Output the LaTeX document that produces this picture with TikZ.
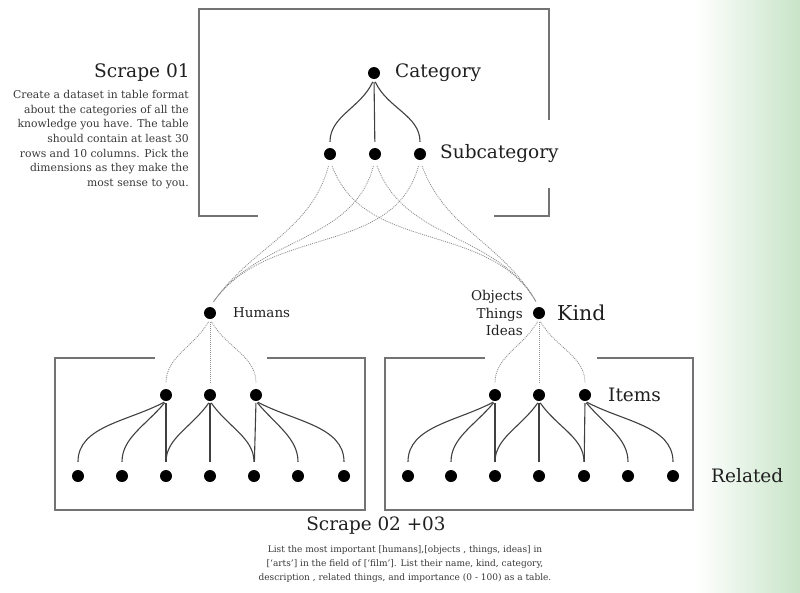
\documentclass[tikz,border=0pt]{standalone}
\usepackage{fontspec}
\setmainfont{DejaVu Serif}
\begin{document}
\begin{tikzpicture}[x=1pt,y=-1pt,
  dot/.style={circle,fill=black,inner sep=0pt,minimum size=12pt},
  boxline/.style={draw=black!55,line width=1.6pt},
  solidedge/.style={draw=black!75,line width=1.1pt},
  dotedge/.style={draw=black!45,line width=0.8pt,dash pattern=on 1pt off 1pt},
  lbl/.style={inner sep=0pt,text=black!88},
  body/.style={inner sep=0pt,text=black!78}]
\useasboundingbox (0,0) rectangle (800,592);
\shade[left color=white,right color={rgb,255:red,200;green,228;blue,200}] (695,0) rectangle (800,592);
% boxes
\draw[boxline] (258,216) -- (199,216) -- (199,9) -- (549,9) -- (549,120);
\draw[boxline] (549,188) -- (549,216) -- (494,216);
\draw[boxline] (155,358) -- (55,358) -- (55,510) -- (365,510) -- (365,358) -- (267,358);
\draw[boxline] (485,358) -- (385,358) -- (385,510) -- (693,510) -- (693,358) -- (597,358);
% dots
\node[dot] (cat) at (374,73) {};
\node[dot] (s1) at (330,154) {};
\node[dot] (s2) at (375,154) {};
\node[dot] (s3) at (420,154) {};
\node[dot] (hum) at (210,313) {};
\node[dot] (kind) at (539,313) {};
\node[dot] (a1) at (166,395) {};
\node[dot] (a2) at (210,395) {};
\node[dot] (a3) at (256,395) {};
\node[dot] (b1) at (495,395) {};
\node[dot] (b2) at (539,395) {};
\node[dot] (b3) at (585,395) {};
\foreach \i/\x in {1/78,2/122,3/166,4/210,5/254,6/298,7/344}{\node[dot] (ra\i) at (\x,476) {};}
\foreach \i/\x in {1/408,2/451,3/495,4/539,5/584,6/628,7/673}{\node[dot] (rb\i) at (\x,476) {};}
% labels
\node[lbl,anchor=west,font=\fontsize{18.5}{22}\selectfont] (tcat) at (395,73) {Category};
\node[lbl,anchor=west,font=\fontsize{18.5}{22}\selectfont] (tsub) at (440,154) {Subcategory};
\node[lbl,anchor=west,font=\fontsize{13.5}{15}\selectfont] (thum) at (233,313) {Humans};
\node[lbl,anchor=west,font=\fontsize{20.5}{22}\selectfont] (tkind) at (557,313) {Kind};
\node[lbl,anchor=east,align=right,font=\fontsize{13.5}{17.5}\selectfont] (tobj) at (523,313) {Objects\\Things\\Ideas};
\node[lbl,anchor=west,font=\fontsize{18.5}{22}\selectfont] (titems) at (608,395) {Items};
\node[lbl,anchor=west,font=\fontsize{18.5}{22}\selectfont] (trel) at (711,476) {Related};
\node[lbl,anchor=east,font=\fontsize{18.6}{24}\selectfont] (tsc1) at (190,73) {Scrape 01};
\node[body,anchor=north east,align=right,font=\fontsize{10.8}{14.7}\selectfont] (tb1) at (189,90) {Create a dataset in table format\\about the categories of all the\\knowledge you have. The table\\should contain at least 30\\rows and 10 columns. Pick the\\dimensions as they make the\\most sense to you.};
\node[lbl,font=\fontsize{18.4}{24}\selectfont] (tsc2) at (376,526) {Scrape 02 +03};
\node[body,align=center,font=\fontsize{9}{14}\selectfont] (tb2) at (405,564) {List the most important {[}humans{]},{[}objects , things, ideas{]} in\\{[}`arts'{]} in the field of {[}`film'{]}. List their name, kind, category,\\description , related things, and importance (0 - 100) as a table.};
% solid edges
\draw[solidedge,shorten <=3pt,shorten >=6pt] (cat.south) to[out=-115,in=90] (s1);
\draw[solidedge,shorten <=3pt,shorten >=6pt] (cat.south) -- (s2);
\draw[solidedge,shorten <=3pt,shorten >=6pt] (cat.south) to[out=-65,in=90] (s3);
\foreach \p/\q in {a/ra,b/rb}{
  \draw[solidedge,shorten <=2pt,shorten >=8pt] (\p1.south) to[out=-152,in=90] (\q1);
  \draw[solidedge,shorten <=2pt,shorten >=8pt] (\p1.south) to[out=-130,in=90] (\q2);
  \draw[solidedge,shorten <=2pt,shorten >=8pt] (\p1.south) -- (\q3);
  \draw[solidedge,shorten <=2pt,shorten >=8pt] (\p2.south) to[out=-125,in=90] (\q3);
  \draw[solidedge,shorten <=2pt,shorten >=8pt] (\p2.south) -- (\q4);
  \draw[solidedge,shorten <=2pt,shorten >=8pt] (\p2.south) to[out=-55,in=90] (\q5);
  \draw[solidedge,shorten <=2pt,shorten >=8pt] (\p3.south) -- (\q5);
  \draw[solidedge,shorten <=2pt,shorten >=8pt] (\p3.south) to[out=-50,in=90] (\q6);
  \draw[solidedge,shorten <=2pt,shorten >=8pt] (\p3.south) to[out=-28,in=90] (\q7);
}
% dotted edges
\draw[dotedge,shorten <=3pt,shorten >=6pt] (hum.south) to[out=-120,in=90] (a1);
\draw[dotedge,shorten <=3pt,shorten >=6pt] (hum.south) -- (a2);
\draw[dotedge,shorten <=3pt,shorten >=6pt] (hum.south) to[out=-60,in=90] (a3);
\draw[dotedge,shorten <=3pt,shorten >=6pt] (kind.south) to[out=-120,in=90] (b1);
\draw[dotedge,shorten <=3pt,shorten >=6pt] (kind.south) -- (b2);
\draw[dotedge,shorten <=3pt,shorten >=6pt] (kind.south) to[out=-60,in=90] (b3);
\foreach \s in {s1,s2,s3}{
  \draw[dotedge,shorten <=6pt,shorten >=6pt] (\s.south) to[out=-105,in=55] (hum.north);
  \draw[dotedge,shorten <=6pt,shorten >=6pt] (\s.south) to[out=-70,in=120] (kind.north);
}
\end{tikzpicture}
\end{document}
